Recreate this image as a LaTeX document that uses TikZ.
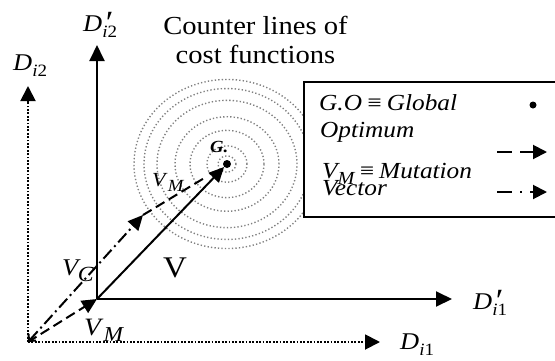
\documentclass[tikz,border=0pt]{standalone}
\usepackage{fontspec}
\usepackage{graphicx}
\setmainfont{Liberation Serif}[FakeStretch=1.1]
\usetikzlibrary{arrows.meta}
\newcommand{\sbs}[2][0.72]{\raisebox{-0.27em}{\scalebox{#1}{#2}}}
\newcommand{\prm}{\rlap{\raisebox{-0.12em}{\scalebox{1.35}{\kern1pt\textit{′}}}}}
\newcommand{\Dl}[1]{\textit{D}\sbs{\textit{i}#1}}
\newcommand{\Dp}[1]{\textit{D}\prm\sbs{\textit{i}#1}}
\newcommand{\VM}[1][0.8]{\textit{V}\sbs[#1]{\textit{M}}}
\begin{document}
\begin{tikzpicture}[x=1pt,y=-1pt,
  lbl/.style={inner sep=0pt,anchor=base west},
  axis/.style={line width=2pt,-{Triangle[length=16pt,width=15pt]}},
  dotaxis/.style={line width=1.9pt,dash pattern=on 1.8pt off 1.6pt,-{Triangle[length=15pt,width=15pt]}},
  ring/.style={gray,line width=1.4pt,dash pattern=on 1.3pt off 2.2pt},
  vecline/.style={line width=2pt},
  dashvec/.style={line width=2pt,dash pattern=on 10pt off 5pt},
  dotdashvec/.style={line width=2pt,dash pattern=on 12pt off 4pt on 2pt off 4pt},
  tip/.style={-{Triangle[length=15pt,width=14pt]}}]
\useasboundingbox (0,0) rectangle (555,360);
% coordinates
\coordinate (O) at (28,342);
\coordinate (Op) at (97,299);
\coordinate (Yd) at (28,86);
\coordinate (Xd) at (380,342);
\coordinate (Ys) at (97,45);
\coordinate (Xs) at (452,299);
\coordinate (P) at (143,215);
\coordinate (Q) at (206,177);
% contour rings
\foreach \r in {9,20,37,52,70,83,93}{
  \draw[ring] (227,164) ellipse [x radius=\r pt, y radius=\r pt/1.1];
}
% legend box
\fill[white] (304,82) rectangle (560,217);
\draw[line width=2pt] (560,82) -- (304,82) -- (304,217) -- (560,217);
% axes
\draw[dotaxis] (O) -- (Yd);
\draw[dotaxis] (O) -- (Xd);
\draw[axis] (Op) -- (Ys);
\draw[axis] (Op) -- (Xs);
% global optimum
\node[circle,fill,inner sep=0pt,minimum size=8pt] (G) at (227,164) {};
% vectors
\draw[vecline,tip] (Op) -- (G);
\draw[dashvec,tip] (O) -- (Op);
\draw[dotdashvec,{Straight Barb[length=5pt,width=10pt]}-{Triangle[length=15pt,width=14pt]}] (O) -- (P);
\draw[dashvec] (P) -- (Q);
% labels
\node[lbl,font=\fontsize{24}{24}\selectfont] (dI2) at (13,70) {\Dl{2}};
\node[lbl,font=\fontsize{24}{24}\selectfont] (dpI2) at (83,31) {\Dp{2}};
\node[lbl,font=\fontsize{24}{24}\selectfont] (dpI1) at (473,309) {\Dp{1}};
\node[lbl,font=\fontsize{24}{24}\selectfont] (dI1) at (400,349) {\Dl{1}};
\node[inner sep=0pt,anchor=base,font=\fontsize{26}{26}\selectfont] (t1) at (255.5,34) {Counter lines of};
\node[inner sep=0pt,anchor=base,font=\fontsize{26}{26}\selectfont] (t2) at (255.5,63) {cost functions};
\node[lbl,font=\fontsize{17}{17}\selectfont\bfseries\itshape] (gl) at (210,152) {G.};
\node[lbl,font=\fontsize{20}{20}\selectfont] (vm1) at (152,186) {\VM[0.85]};
\node[lbl,font=\fontsize{30}{30}\selectfont] (v) at (163,277) {V};
\node[lbl,font=\fontsize{24}{24}\selectfont] (vc) at (62,275) {\textit{V}\kern-3pt\sbs[0.9]{\textit{C}}};
\node[lbl,font=\fontsize{25}{25}\selectfont] (vm2) at (84,335) {\VM[0.85]};
% legend
\node[lbl,font=\fontsize{23}{23}\selectfont\itshape] (lg1) at (319,110) {G.O\,≡\,Global};
\node[lbl,font=\fontsize{23}{23}\selectfont\itshape] (lg2) at (320,137) {Optimum};
\node[lbl,font=\fontsize{23}{23}\selectfont\itshape] (lg3) at (322,178) {\VM\,≡\,Mutation};
\node[lbl,font=\fontsize{23}{23}\selectfont\itshape] (lg4) at (322,195) {Vector};
\node[circle,fill,inner sep=0pt,minimum size=7pt] (ldot) at (533,105) {};
\coordinate (la1) at (497,152);
\coordinate (lb1) at (547,152);
\coordinate (la2) at (497,192);
\coordinate (lb2) at (547,192);
\draw[line width=2pt,dash pattern=on 15pt off 8pt,-{Triangle[length=14pt,width=14pt]}] (la1) -- (lb1);
\draw[line width=2pt,dash pattern=on 15pt off 8pt on 2pt off 8pt,-{Triangle[length=14pt,width=14pt]}] (la2) -- (lb2);
\end{tikzpicture}
\end{document}
